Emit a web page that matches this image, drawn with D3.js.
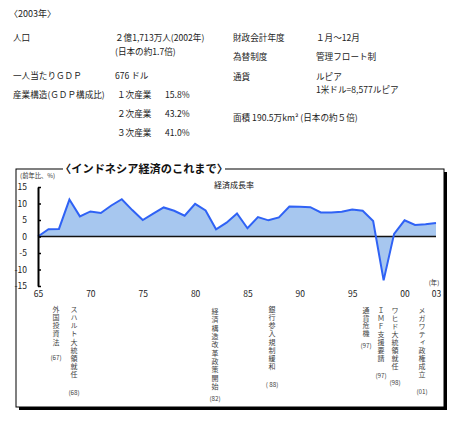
<!DOCTYPE html>
<html><head><meta charset="utf-8">
<script src="https://cdn.jsdelivr.net/npm/d3@7"></script>
<style>
body{margin:0;background:#fff;}
svg{display:block;}
text{font-family:"Noto Sans CJK JP","Noto Sans",sans-serif;}
</style></head>
<body><svg id="c" width="461" height="423"></svg>
<script>
// ---- data ----
const years = d3.range(1965, 2004);
const growth = [0.0, 2.2, 2.3, 11.2, 6.1, 7.6, 7.1, 9.4, 11.3, 8.0,
                5.0, 6.9, 8.8, 7.8, 6.3, 9.9, 7.9, 2.2, 4.2, 7.0,
                2.5, 5.9, 4.9, 5.8, 9.1, 9.0, 8.9, 7.3, 7.3, 7.5,
                8.2, 7.8, 4.7, -13.3, 0.8, 4.9, 3.5, 3.7, 4.1];
const yTicks = [-15, -10, -5, 0, 5, 10, 15];
const xTicks = [1965, 1970, 1975, 1980, 1985, 1990, 1995, 2000, 2003];
const events = [
  {text: "外国投資法", label: "(67)"},
  {text: "スハルト大統領就任", label: "(68)"},
  {text: "経済構造改革政策開始", label: "(82)"},
  {text: "銀行参入規制緩和", label: "( 88)"},
  {text: "通貨危機", label: "(97)"},
  {text: "ＩＭＦ支援要請", label: "(97)"},
  {text: "ワヒド大統領就任", label: "(98)"},
  {text: "メガワティ政権成立", label: "(01)"}
];
const infoLeft = [
  ["人口", "２億1,713万人(2002年)"],
  ["", "(日本の約1.7倍)"],
  ["一人当たりＧＤＰ", "676  ドル"],
  ["産業構造(ＧＤＰ構成比)", "１次産業"],
  ["", "２次産業"],
  ["", "３次産業"]
];
const shares = ["15.8%", "43.2%", "41.0%"];
const infoRight = [
  ["財政会計年度", "１月～12月"],
  ["為替制度", "管理フロート制"],
  ["通貨", "ルピア"],
  ["", "1米ドル=8,577ルピア"],
  ["面積  190.5万km²  (日本の約５倍)", ""]
];

// ---- layout ----
const svg = d3.select("#c");
const FS = 8.6;

svg.append("text").attr("x", 9).attr("y", 17).attr("font-size", 9).attr("fill", "#222").text("〈2003年〉");

const leftY = [41, 55, 79, 98, 117, 136];
infoLeft.forEach((r, i) => {
  if (r[0]) svg.append("text").attr("x", 13).attr("y", leftY[i]).attr("font-size", FS).attr("fill", "#222").text(r[0]);
  svg.append("text").attr("x", i >= 3 ? 117 : 115).attr("y", leftY[i]).attr("font-size", FS).attr("fill", "#222").text(r[1]);
});
shares.forEach((s, i) => {
  svg.append("text").attr("x", 165).attr("y", leftY[3 + i]).attr("font-size", FS).attr("fill", "#222").text(s);
});
const rightY = [41, 60, 80, 93, 121];
infoRight.forEach((r, i) => {
  if (r[0]) svg.append("text").attr("x", 233).attr("y", rightY[i]).attr("font-size", FS).attr("fill", "#222").text(r[0]);
  if (r[1]) svg.append("text").attr("x", 316).attr("y", rightY[i]).attr("font-size", FS).attr("fill", "#222").text(r[1]);
});

// box with shadow
svg.append("rect").attr("x", 19).attr("y", 172).attr("width", 428).attr("height", 238).attr("fill", "#000");
svg.append("rect").attr("x", 16).attr("y", 169).attr("width", 428).attr("height", 238)
  .attr("fill", "#fff").attr("stroke", "#000").attr("stroke-width", 1);
svg.append("rect").attr("x", 63).attr("y", 164).attr("width", 162).attr("height", 10).attr("fill", "#fff");
svg.append("text").attr("x", 144).attr("y", 173).attr("text-anchor", "middle")
  .attr("font-size", 11.2).attr("font-weight", "bold").attr("fill", "#111").text("〈インドネシア経済のこれまで〉");

// scales
const x = d3.scaleLinear().domain([1965, 2003]).range([38, 436]);
const y = d3.scaleLinear().domain([-15, 15]).range([286, 187]);

const data = years.map((yr, i) => ({yr, v: growth[i]}));

svg.append("path").datum(data)
  .attr("d", d3.area().x(d => x(d.yr)).y0(y(0)).y1(d => y(d.v)))
  .attr("fill", "#a7c7ef");

svg.append("line").attr("x1", x(1965)).attr("x2", x(2003)).attr("y1", y(0)).attr("y2", y(0))
  .attr("stroke", "#111").attr("stroke-width", 1.6);

svg.append("path").datum(data)
  .attr("d", d3.line().x(d => x(d.yr)).y(d => y(d.v)))
  .attr("fill", "none").attr("stroke", "#2f62f5").attr("stroke-width", 2).attr("stroke-linejoin", "miter");

// y axis
const ya = svg.append("g").attr("transform", `translate(${x(1965)},0)`)
  .call(d3.axisLeft(y).tickValues(yTicks).tickSizeInner(-3).tickSizeOuter(0).tickPadding(11)
        .tickFormat(d => d < 0 ? "-" + Math.abs(d) : d));
ya.select(".domain").attr("stroke", "#000").attr("stroke-width", 2);
ya.selectAll(".tick line").attr("stroke", "#000").attr("stroke-width", 1.5);
ya.selectAll("text").attr("font-size", 8.5).attr("fill", "#222").attr("font-family", "'Liberation Sans',sans-serif");

// x axis labels
const xa = svg.append("g").attr("transform", `translate(0,${y(-15)})`)
  .call(d3.axisBottom(x).tickValues(xTicks).tickSize(0).tickPadding(5)
        .tickFormat(d => String(d).slice(2)));
xa.select(".domain").remove();
xa.selectAll("text").attr("font-size", 8.5).attr("fill", "#222").attr("font-family", "'Liberation Sans',sans-serif");

svg.append("text").attr("x", 20).attr("y", 178).attr("font-size", 6.3).attr("fill", "#333").text("(前年比、%)");
svg.append("text").attr("x", 214).attr("y", 188).attr("font-size", 8).attr("fill", "#111").text("経済成長率");
svg.append("text").attr("x", 434).attr("y", 285).attr("text-anchor", "middle").attr("font-size", 6.3).attr("fill", "#333").text("(年)");

// vertical annotations
const evX = [56, 74, 215, 272, 366, 381, 395, 422];
const evSpacing = [1.1, 1.1, 1.3, 1.1, 0.6, 1.0, 1.0, 1.0];
const evTop = [306, 306, 308, 306, 307, 307, 307, 307];
const evLab = [357, 392, 398, 384, 345, 375, 382, 391];
events.forEach((e, i) => {
  svg.append("text").attr("x", evX[i]).attr("y", evTop[i])
    .style("writing-mode", "vertical-rl").style("letter-spacing", evSpacing[i] + "px")
    .attr("font-size", 7).attr("fill", "#444").text(e.text);
  svg.append("text").attr("x", evX[i]).attr("y", evLab[i] + 2.5).attr("text-anchor", "middle")
    .attr("font-size", 6.3).attr("fill", "#444").text(e.label);
});
</script></body></html>
